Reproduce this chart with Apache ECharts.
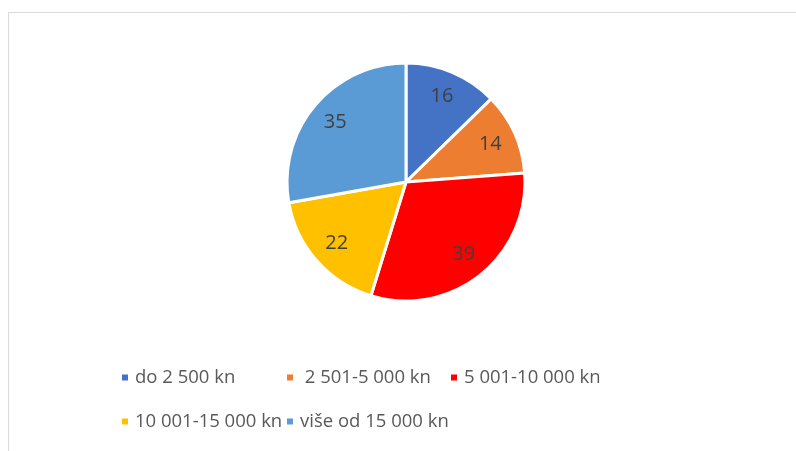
<!DOCTYPE html>
<html>
<head>
<meta charset="utf-8">
<script src="https://cdn.jsdelivr.net/npm/echarts@6/dist/echarts.min.js"></script>
<style>
  html, body { margin: 0; padding: 0; background: #ffffff; }
  #chart { width: 796px; height: 451px; }
</style>
</head>
<body>
<div id="chart"></div>
<script>
// Income brackets and counts
const categories = ['do 2 500 kn', ' 2 501-5 000 kn', '5 001-10 000 kn', '10 001-15 000 kn', 'više od 15 000 kn'];
const values = [16, 14, 39, 22, 35];
const colors = ['#4472C4', '#ED7D31', '#FF0000', '#FFC000', '#5B9BD5'];

// Legend grid positions (column x, row y) for each entry
const legendSlots = [[120, 368], [285, 368], [449, 368], [120, 412], [285, 412]];

const FONT = '"Open Sans", "Liberation Sans", sans-serif';

const pieData = categories.map((name, i) => ({
  name: name,
  value: values[i],
  itemStyle: { color: colors[i] }
}));

const chart = echarts.init(document.getElementById('chart'), null, { renderer: 'canvas' });

const legends = categories.map((name, i) => ({
  data: [name],
  left: legendSlots[i][0],
  top: legendSlots[i][1],
  orient: 'horizontal',
  padding: 0,
  itemWidth: 8,
  itemHeight: 8,
  icon: 'rect',
  selectedMode: false,
  textStyle: { fontFamily: FONT, fontSize: 18.5, color: '#595959', padding: [0, 0, 0, 1] }
}));

chart.setOption({
  animation: false,
  backgroundColor: '#ffffff',
  color: colors,
  graphic: [{
    type: 'rect',
    shape: { x: 8.5, y: 12.5, width: 900, height: 600 },
    style: { fill: 'none', stroke: '#d9d9d9', lineWidth: 1 },
    silent: true,
    z: -1
  }],
  legend: legends,
  series: [
    {
      type: 'pie',
      center: [406, 182],
      radius: [0, 119],
      startAngle: 90,
      clockwise: true,
      silent: true,
      label: { show: false },
      labelLine: { show: false },
      itemStyle: { borderColor: '#ffffff', borderWidth: 3 },
      data: pieData
    },
    {
      // transparent ring carrying the value labels at ~3/4 of the radius
      type: 'pie',
      center: [406, 182],
      radius: [60, 119],
      startAngle: 90,
      clockwise: true,
      silent: true,
      legendHoverLink: false,
      itemStyle: { color: 'rgba(0,0,0,0)', borderWidth: 0 },
      label: {
        show: true,
        position: 'inside',
        formatter: '{c}',
        fontFamily: FONT,
        fontSize: 20,
        color: '#404040'
      },
      labelLine: { show: false },
      data: categories.map((name, i) => ({ name: name + '\u200b', value: values[i] }))
    }
  ]
});
</script>
</body>
</html>
